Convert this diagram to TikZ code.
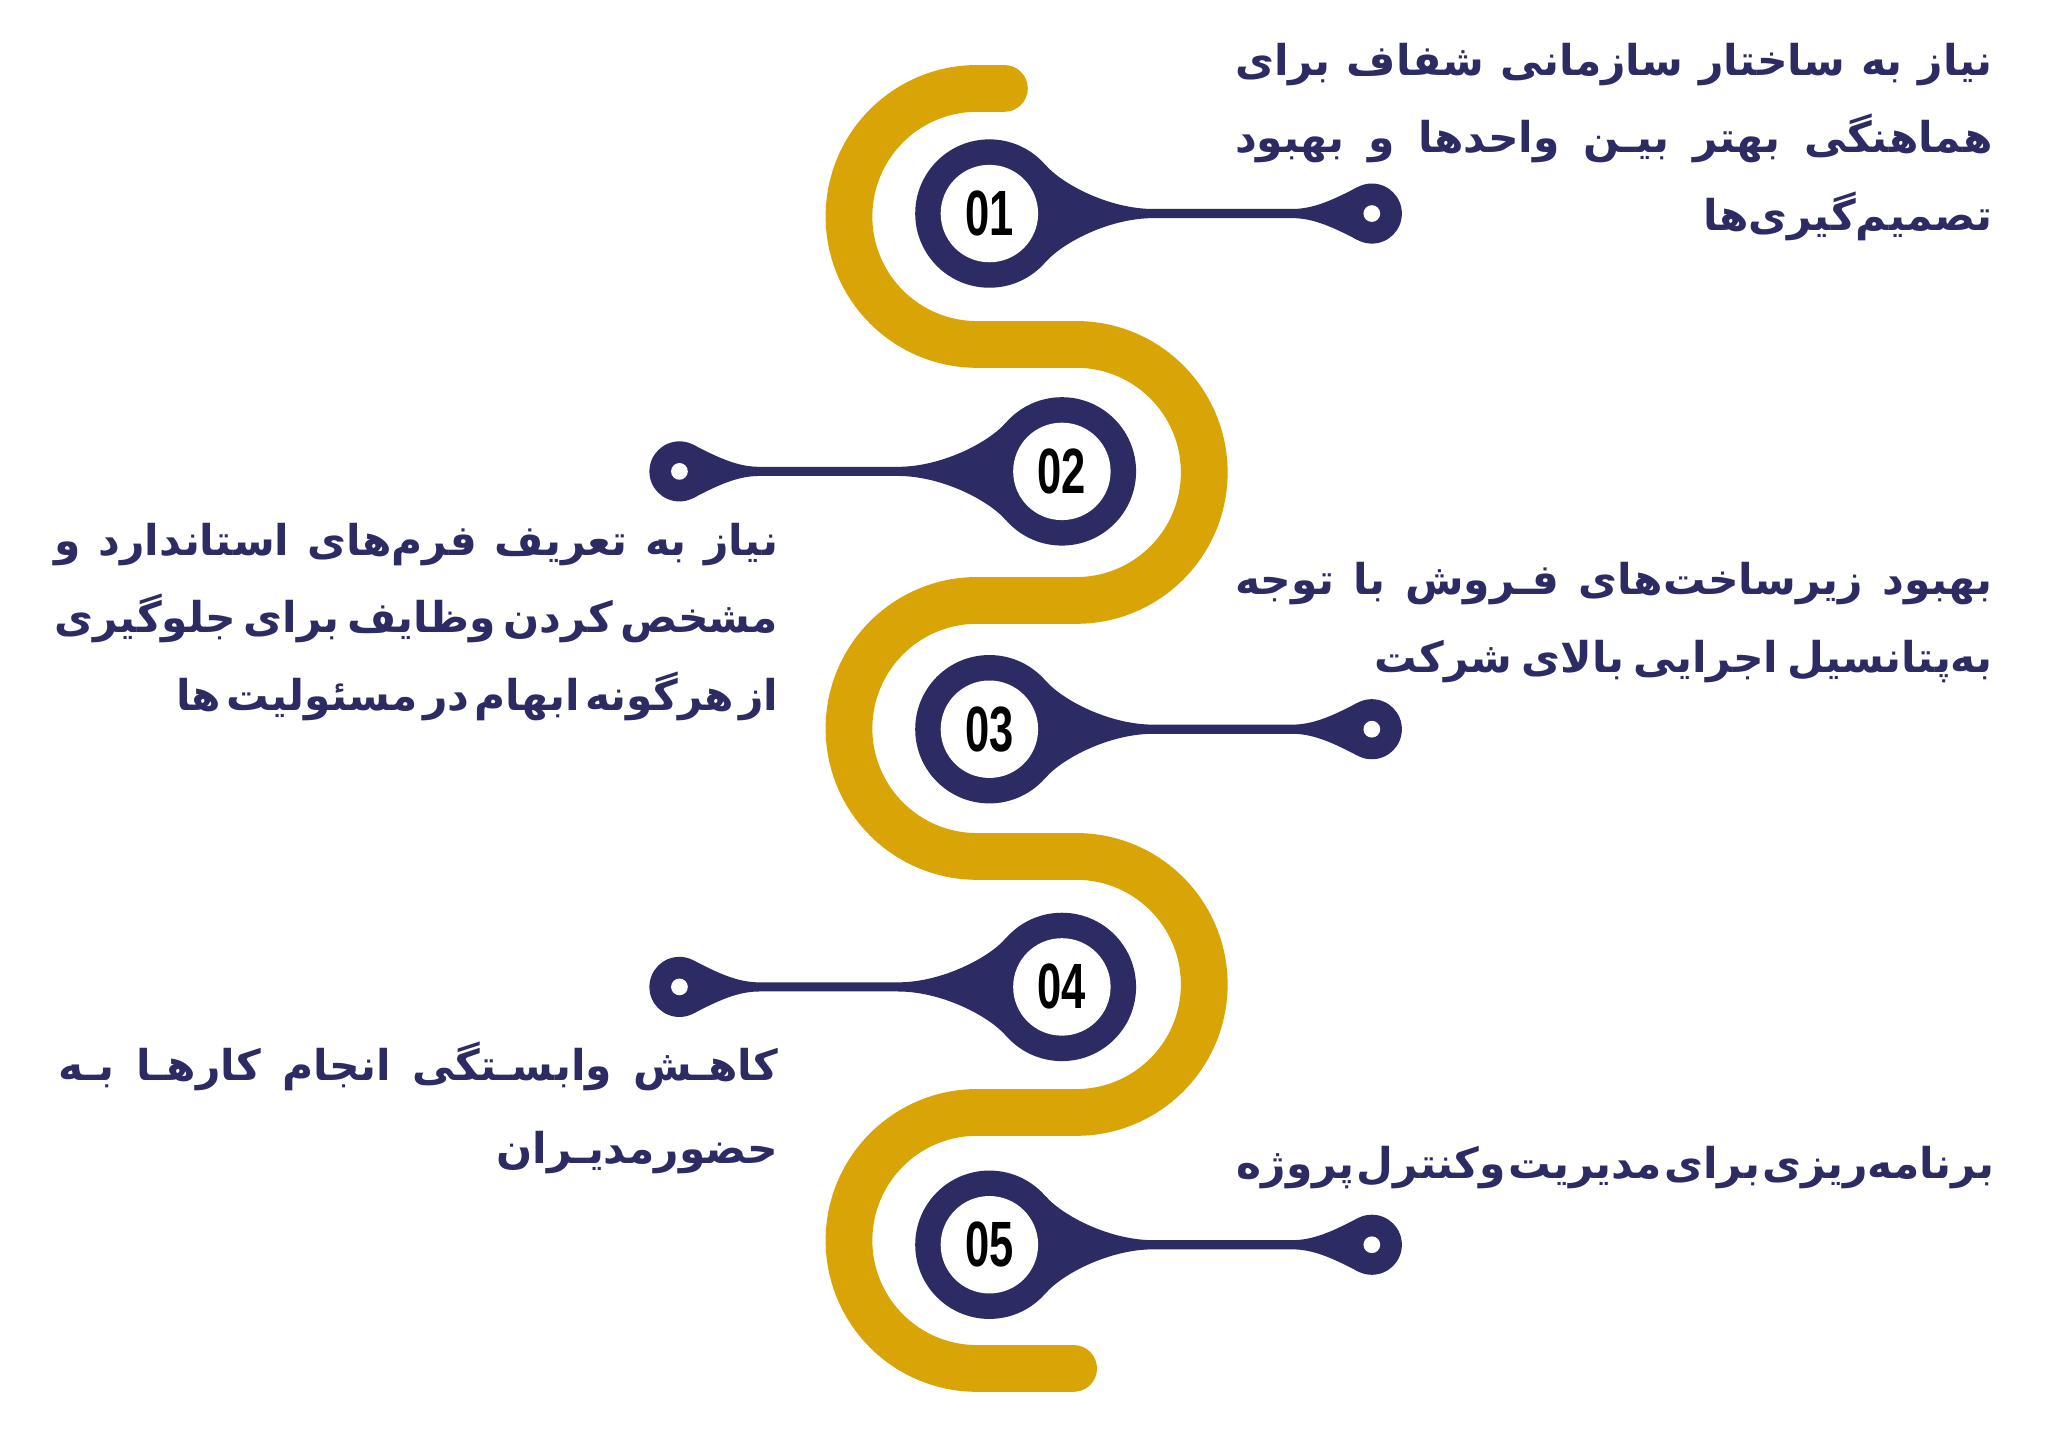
\documentclass[tikz,border=0pt]{standalone}
\usepackage{fontspec}
\setmainfont{Liberation Sans}
\newfontfamily\fa[Script=Arabic]{DejaVu Sans}
\newfontfamily\numfont{Liberation Sans}
\TeXXeTstate=1
\definecolor{gold}{RGB}{216,164,6}
\definecolor{navy}{RGB}{45,43,99}
\tikzset{
  goldpath/.style={draw=gold, line width=35.8pt, line cap=round},
  numlabel/.style={inner sep=0pt, font=\numfont\bfseries\fontsize{49}{49}\selectfont, text=black},
  fatext/.style={inner sep=0pt, anchor=base east, text=navy, font=\fa\bfseries\fontsize{32.5}{40}\selectfont},
}
\newcommand\jline[2]{\hbox to #1pt{\spaceskip=0.3em plus 1fil minus 1fil\relax #2}}
\newcommand\drawpin[5]{% name, x, y, xscale, label
  \begin{scope}[shift={(#2,#3)}, xscale=#4]
    \fill[navy] (0,0) circle[radius=56.8];
    \fill[navy] (292.8,0) circle[radius=23];
    \fill[navy] (42.9,37.3) .. controls (56,22.2) and (92,3.5) .. (125.5,3.5)
      -- (231.8,3.5) .. controls (248,3.5) and (263,10.4) .. (281.6,20.1)
      -- (281.6,-20.1) .. controls (263,-10.4) and (248,-3.5) .. (231.8,-3.5)
      -- (125.5,-3.5) .. controls (92,-3.5) and (56,-22.2) .. (42.9,-37.3) -- cycle;
    \fill[white] (0,0) circle[radius=37.3];
    \fill[white] (292.8,0) circle[radius=6.4];
  \end{scope}
  \node[numlabel] (#1) at (#2,#3) {\scalebox{0.68}[1]{#5}};
}
\begin{document}
\begin{tikzpicture}[x=1pt,y=1pt]
\useasboundingbox (0,0) rectangle (1568,-1097.9);
% gold serpentine
\draw[goldpath] (769,-67.7) -- (748,-67.7)
  arc[start angle=90, end angle=270, radius=98] -- (824,-263.7)
  arc[start angle=90, end angle=-90, radius=98] -- (748,-459.7)
  arc[start angle=90, end angle=270, radius=98] -- (824,-655.7)
  arc[start angle=90, end angle=-90, radius=98] -- (748,-851.7)
  arc[start angle=90, end angle=270, radius=98] -- (822,-1047.7);
% pins
\drawpin{n1}{757.5}{-163.5}{1}{01}
\drawpin{n2}{813}{-360.9}{-1}{02}
\drawpin{n3}{757.5}{-558.3}{1}{03}
\drawpin{n4}{813}{-755.6}{-1}{04}
\drawpin{n5}{757.5}{-953}{1}{05}
% texts
\node[fatext] (t1a) at (1525.8,-57.5) {\jline{580}{\beginR نیاز به ساختار سازمانی شفاف برای\endR}};
\node[fatext] (t1b) at (1525.8,-117.1) {\jline{580}{\beginR هماهنگی بهتر بیـن واحدها و بهبود\endR}};
\node[fatext] (t1c) at (1525.8,-176.7) {\beginR تصمیم‌گیری‌ها\endR};
\node[fatext] (t2a) at (596,-425) {\jline{554}{\beginR نیاز به تعریف فرم‌های استاندارد و\endR}};
\node[fatext] (t2b) at (596,-484.3) {\jline{554}{\beginR مشخص کردن وظایف برای جلوگیری\endR}};
\node[fatext] (t2c) at (596,-543.7) {\jline{461}{\beginR از هرگونه ابهام در مسئولیت ها\endR}};
\node[fatext] (t3a) at (1525.8,-455) {\jline{580}{\beginR بهبود زیرساخت‌های فـروش با توجه\endR}};
\node[fatext] (t3b) at (1525.8,-515) {\jline{473}{\beginR به‌پتانسیل اجرایی بالای شرکت\endR}};
\node[fatext] (t4a) at (596,-827) {\jline{551}{\beginR کاهـش وابسـتگی انجام کارهـا بـه\endR}};
\node[fatext] (t4b) at (596,-891) {\beginR حضورمدیـران\endR};
\node[fatext] (t5a) at (1527,-902) {\jline{580}{\beginR برنامه‌ریزی برای مدیریت وکنترل پروژه\endR}};
\end{tikzpicture}
\end{document}
